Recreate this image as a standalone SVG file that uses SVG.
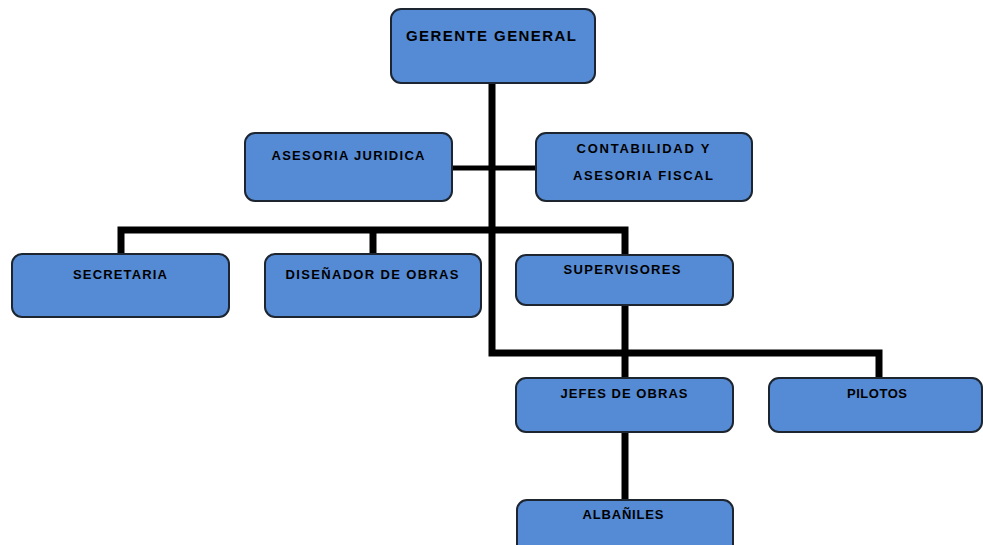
<svg xmlns="http://www.w3.org/2000/svg" width="983" height="545" viewBox="0 0 983 545">
<style>
.box{fill:#558ad4;stroke:#1c2530;stroke-width:2}
.t{font-family:"Liberation Sans",Arial,sans-serif;font-size:13px;font-weight:bold;fill:#000;text-anchor:middle}
.c{stroke:#000;fill:none;stroke-width:7;stroke-linejoin:miter;stroke-linecap:butt}
</style>
<rect width="983" height="545" fill="#fff"/>
<g id="connectors">
<path class="c" d="M492,83 V353 H879 V378"/>
<path class="c" style="stroke-width:5" d="M452,168 H536"/>
<path class="c" d="M121,254 V230 H625 V255"/>
<path class="c" d="M373,230 V254"/>
<path class="c" d="M625,305 V378"/>
<path class="c" d="M625,432 V500"/>
</g>
<g id="gerente"><rect class="box" x="391" y="9" width="204" height="74" rx="10"/><text class="t" x="491" y="41" style="font-size:15px" textLength="170" lengthAdjust="spacing">GERENTE GENERAL</text></g>
<g id="juridica"><rect class="box" x="245" y="133" width="207" height="68" rx="10"/><text class="t" x="348" y="160" textLength="153" lengthAdjust="spacing">ASESORIA JURIDICA</text></g>
<g id="contabilidad"><rect class="box" x="536" y="133" width="216" height="68" rx="10"/><text class="t" x="643" y="153" textLength="133" lengthAdjust="spacing">CONTABILIDAD Y</text><text class="t" x="643" y="180" textLength="140" lengthAdjust="spacing">ASESORIA FISCAL</text></g>
<g id="secretaria"><rect class="box" x="12" y="254" width="217" height="63" rx="10"/><text class="t" x="120" y="279" textLength="94" lengthAdjust="spacing">SECRETARIA</text></g>
<g id="disenador"><rect class="box" x="265" y="254" width="216" height="63" rx="10"/><text class="t" x="372" y="279" textLength="173" lengthAdjust="spacing">DISEÑADOR DE OBRAS</text></g>
<g id="supervisores"><rect class="box" x="516" y="255" width="217" height="50" rx="10"/><text class="t" x="622" y="274" textLength="117" lengthAdjust="spacing">SUPERVISORES</text></g>
<g id="jefes"><rect class="box" x="516" y="378" width="217" height="54" rx="10"/><text class="t" x="624" y="398" textLength="127" lengthAdjust="spacing">JEFES DE OBRAS</text></g>
<g id="pilotos"><rect class="box" x="769" y="378" width="213" height="54" rx="10"/><text class="t" x="877" y="398" textLength="60" lengthAdjust="spacing">PILOTOS</text></g>
<g id="albaniles"><rect class="box" x="517" y="500" width="216" height="60" rx="10"/><text class="t" x="623" y="519" textLength="81" lengthAdjust="spacing">ALBAÑILES</text></g>
</svg>
